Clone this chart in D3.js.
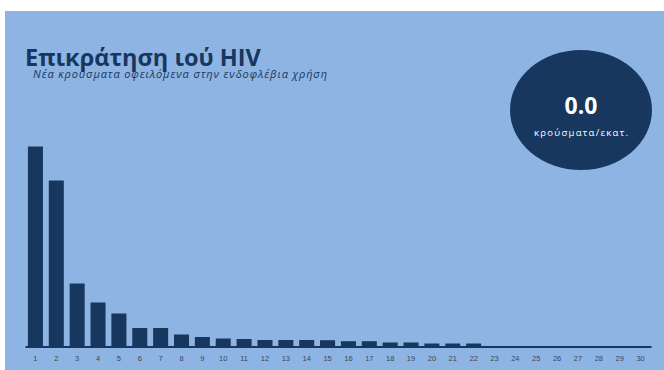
<!DOCTYPE html>
<html>
<head>
<meta charset="utf-8">
<script src="https://cdn.jsdelivr.net/npm/d3@7"></script>
<style>
  html, body { margin: 0; padding: 0; background: #ffffff; }
  svg { display: block; }
</style>
</head>
<body>
<svg id="chart" width="664" height="370"></svg>
<script>
// Weeks shown along the axis
const weeks = d3.range(1, 31).map(String);
// New HIV cases attributed to injecting drug use, per week
const cases = [200, 166, 63, 44, 33, 18.5, 18.5, 12, 9.5, 8, 7.5, 6.5, 6.5, 6.5, 6.3, 5.3, 5.3, 4, 4, 3, 3, 3, 0, 0, 0, 0, 0, 0, 0, 0];
const titleText = "Επικράτηση ιού HIV";
const subtitleText = "Νέα κρούσματα οφειλόμενα στην ενδοφλέβια χρήση";
const rateValue = [0.0];
const rateUnit = "κρούσματα/εκατ.";

const W = 664, H = 370;
const svg = d3.select("#chart");

// Panel background
svg.append("rect")
  .attr("x", 5).attr("y", 11)
  .attr("width", W - 5).attr("height", H - 11)
  .attr("fill", "#8eb4e3");

const x = d3.scaleBand()
  .domain(weeks)
  .range([25, 651])
  .paddingInner(0.28)
  .paddingOuter(0.14);

const y = d3.scaleLinear()
  .domain([0, 200])
  .range([346.5, 146.5]);

// Bars
svg.append("g")
  .selectAll("rect")
  .data(cases)
  .join("rect")
  .attr("x", (d, i) => x(weeks[i]))
  .attr("y", d => y(d))
  .attr("width", x.bandwidth())
  .attr("height", d => y(0) - y(d))
  .attr("fill", "#17375e");

// Baseline axis with week labels
const axis = svg.append("g")
  .attr("transform", `translate(0,${y(0)})`)
  .call(d3.axisBottom(x).tickSize(0).tickPadding(9));
axis.select(".domain")
  .attr("stroke", "#17375e")
  .attr("stroke-width", 2.2);
axis.selectAll("text")
  .attr("fill", "#3b4658")
  .attr("font-family", "Liberation Sans, Arial, sans-serif")
  .attr("font-size", 7.5);

// Title and subtitle
svg.append("text")
  .attr("x", 25).attr("y", 66)
  .attr("font-family", "Open Sans, sans-serif")
  .attr("font-weight", "bold")
  .attr("font-size", 23.5)
  .attr("fill", "#17375e")
  .text(titleText);

svg.append("text")
  .attr("x", 33).attr("y", 78)
  .attr("font-family", "Open Sans, sans-serif")
  .attr("font-style", "italic")
  .attr("font-size", 11)
  .attr("textLength", 294)
  .attr("lengthAdjust", "spacing")
  .attr("fill", "#17375e")
  .text(subtitleText);

// Rate badge
const badge = svg.append("g").attr("transform", "translate(581,110)");
badge.append("ellipse")
  .attr("rx", 71).attr("ry", 60)
  .attr("fill", "#17375e");
badge.append("text")
  .attr("text-anchor", "middle")
  .attr("y", 4)
  .attr("font-family", "Open Sans, sans-serif")
  .attr("font-weight", "bold")
  .attr("font-size", 23)
  .attr("fill", "#ffffff")
  .text(d3.format(".1f")(rateValue[0]));
badge.append("text")
  .attr("text-anchor", "middle")
  .attr("y", 26)
  .attr("font-family", "Open Sans, sans-serif")
  .attr("font-size", 9.5)
  .attr("textLength", 94)
  .attr("lengthAdjust", "spacing")
  .attr("fill", "#ffffff")
  .text(rateUnit);
</script>
</body>
</html>
